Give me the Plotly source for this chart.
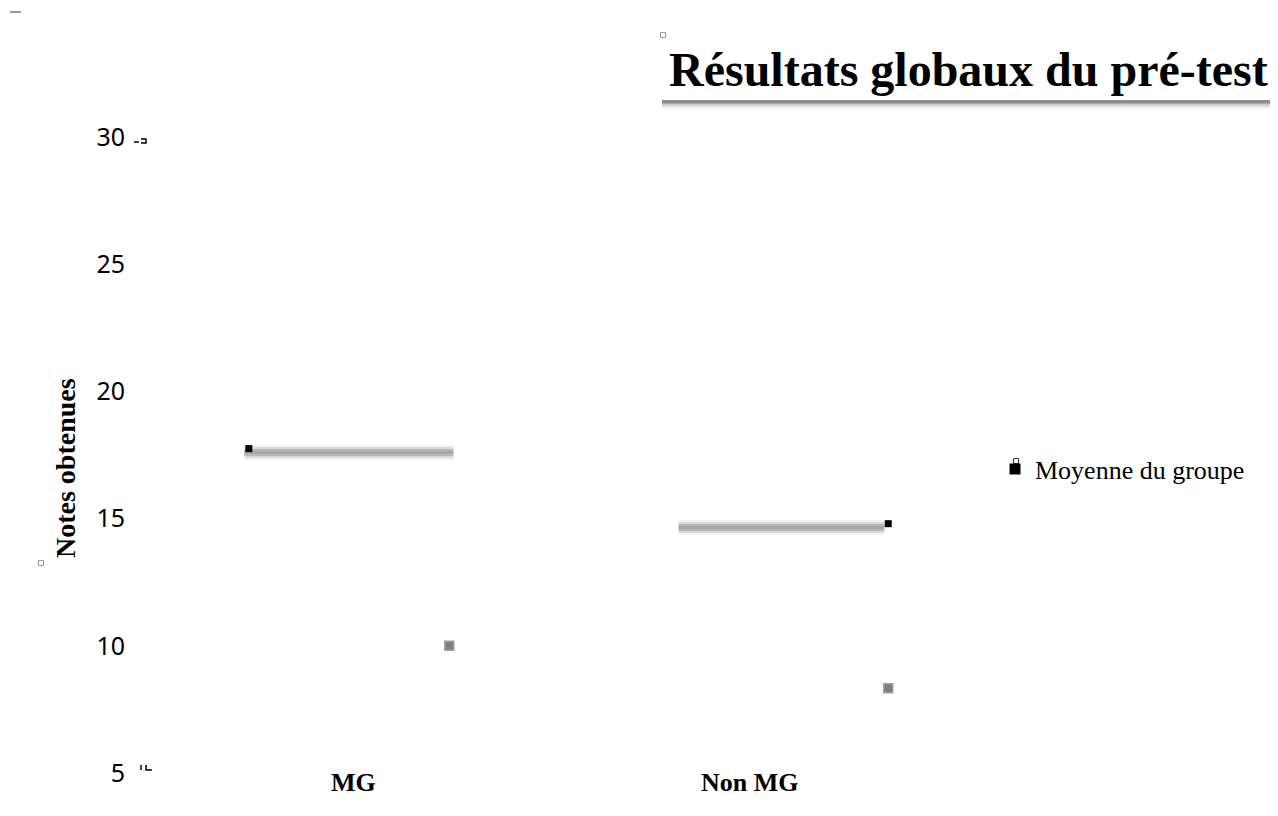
import plotly.graph_objects as go

# ---- data ----
categories = ["MG", "Non MG"]
mean_line_values = [17.6, 14.65]     # grey band (group mean)
mean_marker_values = [17.75, 14.8]   # black squares "Moyenne du groupe"
point_values = [10.0, 8.33]          # grey points
y_ticks = [5, 10, 15, 20, 25, 30]
legend_name = "Moyenne du groupe"
title_text = "Résultats globaux du pré-test"
y_title = "Notes obtenues"

# ---- layout constants (positions relative to category index) ----
line_start_off = [-0.275, -0.179]
line_end_off = [0.252, 0.340]
marker_off = [-0.264, 0.350]
point_off = [0.242, 0.350]

OFF = 8  # page body margin
W, H = 1278 - OFF, 816 - OFF
L = 130 - OFF
R = W - (998 - OFF)
T = 137 - OFF
B = H - (773 - OFF)
PW = W - L - R
PH = H - T - B


def px(x):
    return (x - OFF - L) / PW


def py(y):
    return (H - B - (y - OFF)) / PH


fig = go.Figure()

# blurred grey mean bands
for width, col in [(15, "rgba(220,220,220,0.35)"), (11, "rgba(195,195,195,0.5)"), (7, "rgba(175,175,175,0.8)"), (3, "rgba(165,165,165,0.9)")]:
    for i, c in enumerate(categories):
        fig.add_trace(go.Scatter(
            x=[i + line_start_off[i], i + line_end_off[i]],
            y=[mean_line_values[i], mean_line_values[i]],
            mode="lines", line=dict(color=col, width=width),
            showlegend=False, hoverinfo="skip"))

# grey points
fig.add_trace(go.Scatter(
    x=[i + point_off[i] for i in range(len(categories))], y=point_values,
    mode="markers",
    marker=dict(symbol="square", size=9, color="#808080",
                line=dict(color="#a0a0a0", width=1.5)),
    showlegend=False))

# black mean markers
fig.add_trace(go.Scatter(
    x=[i + marker_off[i] for i in range(len(categories))], y=mean_marker_values,
    mode="markers", name=legend_name, showlegend=False,
    marker=dict(symbol="square", size=7, color="black")))
# legend entry (larger symbol as in the reference)
fig.add_trace(go.Scatter(
    x=[None], y=[None], mode="markers", name=legend_name,
    marker=dict(symbol="square", size=11, color="black")))

shapes = []
# title soft shadow + box
for y0, y1, a in [(94, 108, 0.12), (96, 106, 0.2), (98, 104, 0.3), (99, 103, 0.35)]:
    shapes.append(dict(type="rect", xref="paper", yref="paper",
                       x0=px(662), x1=px(1278), y0=py(y1), y1=py(y0),
                       fillcolor=f"rgba(90,90,90,{a})", line=dict(width=0)))
shapes.append(dict(type="rect", xref="paper", yref="paper",
                   x0=px(660), x1=px(1276), y0=py(100), y1=py(44),
                   fillcolor="white", line=dict(width=0)))
shapes.append(dict(type="line", xref="paper", yref="paper",
                   x0=px(1277), x1=px(1277), y0=py(100), y1=py(46),
                   line=dict(color="#bbbbbb", width=1)))
# small artifacts
for (cx, cy, col) in [(663, 35, "#999999"), (41, 563, "#999999"), (1016, 461, "#333333")]:
    shapes.append(dict(type="rect", xref="paper", yref="paper",
                       x0=px(cx - 2.5), x1=px(cx + 2.5), y0=py(cy + 2.5), y1=py(cy - 2.5),
                       fillcolor="white", line=dict(color=col, width=1)))
shapes.append(dict(type="line", xref="paper", yref="paper",
                   x0=px(10), x1=px(21), y0=py(12), y1=py(12),
                   line=dict(color="#999999", width=2)))
shapes.append(dict(type="line", xref="paper", yref="paper",
                   x0=px(134), x1=px(139), y0=py(142), y1=py(142),
                   line=dict(color="black", width=1.5)))
shapes.append(dict(type="path", xref="paper", yref="paper",
                   path=f"M {px(141)} {py(139)} L {px(146)} {py(139)} L {px(146)} {py(143)} L {px(141)} {py(143)}",
                   line=dict(color="black", width=1.5)))
shapes.append(dict(type="line", xref="paper", yref="paper",
                   x0=px(141), x1=px(141), y0=py(765), y1=py(770),
                   line=dict(color="black", width=1.5)))
shapes.append(dict(type="path", xref="paper", yref="paper",
                   path=f"M {px(146)} {py(765)} L {px(146)} {py(770)} L {px(152)} {py(770)}",
                   line=dict(color="black", width=1.5)))

annotations = [
    dict(text=f"<b>{title_text}</b>", xref="paper", yref="paper",
         x=px(968), y=py(70), xanchor="center", yanchor="middle", showarrow=False,
         font=dict(family="Liberation Serif", size=48, color="black")),
    dict(text=f"<b>{y_title}</b>", xref="paper", yref="paper",
         x=px(66), y=py(468), xanchor="center", yanchor="middle", showarrow=False,
         textangle=-90, font=dict(family="Liberation Serif", size=28, color="black")),
]
for i, c in enumerate(categories):
    annotations.append(dict(text=f"<b>{c}</b>", xref="x", yref="paper",
                            x=i, y=py(782), xanchor="center", yanchor="middle",
                            showarrow=False,
                            font=dict(family="Liberation Serif", size=26, color="black")))

fig.update_layout(
    width=W, height=H,
    margin=dict(l=L, r=R, t=T, b=B),
    paper_bgcolor="white", plot_bgcolor="white",
    xaxis=dict(range=[-0.564, 1.627], showgrid=False, zeroline=False,
               showticklabels=False, showline=False, ticks=""),
    yaxis=dict(range=[5, 30], tickvals=y_ticks, showgrid=False, zeroline=False,
               showline=False, ticks="", ticklabelstandoff=4,
               tickfont=dict(family="Noto Sans", size=25, color="black")),
    legend=dict(x=px(995), y=py(469), xanchor="left", yanchor="middle",
                bgcolor="rgba(0,0,0,0)",
                font=dict(family="Liberation Serif", size=26, color="black")),
    shapes=shapes, annotations=annotations,
    showlegend=True,
)

fig.write_html("out.html")
